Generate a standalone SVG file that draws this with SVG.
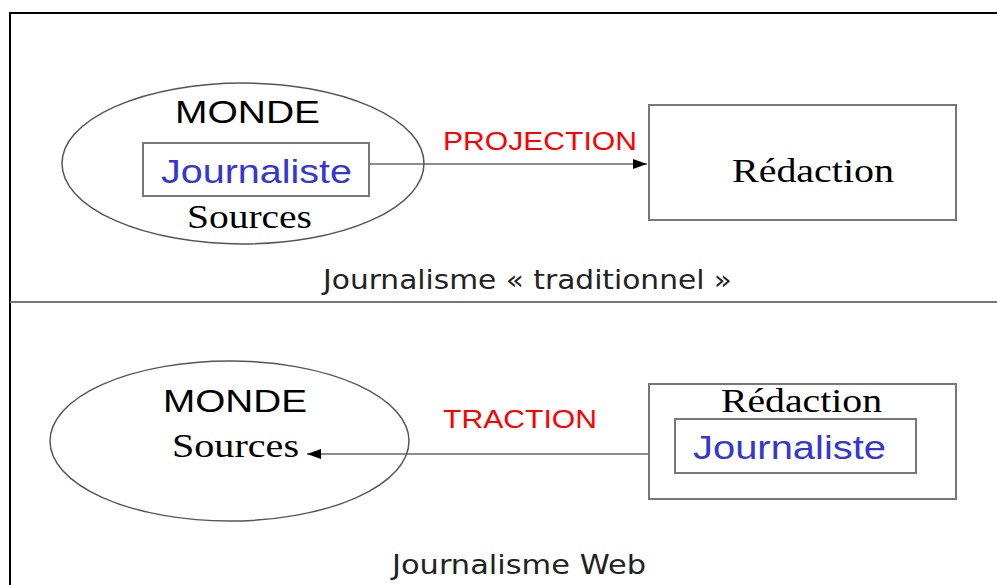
<svg xmlns="http://www.w3.org/2000/svg" width="997" height="585" viewBox="0 0 997 585">
<defs>
<style>
.frame{fill:none;stroke:#000;stroke-width:2}
.div{stroke:#777;stroke-width:2}
.ell{fill:none;stroke:#555;stroke-width:1.5}
.box{fill:#fff;stroke:#777;stroke-width:2}
.conn{fill:none;stroke:#666;stroke-width:1.5}
.sans{font-family:"Liberation Sans",Arial,sans-serif}
.serif{font-family:"Liberation Serif","Times New Roman",serif}
.geo{font-family:"DejaVu Sans","Liberation Sans",sans-serif;fill:#222}
.black{fill:#000}
.blue{fill:#3636d2}
.red{fill:#ff0000}
</style>
<marker id="arr" markerWidth="14" markerHeight="10" refX="14" refY="5" orient="auto" markerUnits="userSpaceOnUse">
<path d="M0,0 L14,5 L0,10 Z" fill="#000"/>
</marker>
</defs>
<rect width="997" height="585" fill="#fff"/>
<path class="frame" d="M10,585 V13 H997"/>
<line class="div" x1="10" y1="302" x2="997" y2="302"/>

<g id="connectors">
<line class="conn" x1="369" y1="164" x2="647" y2="164" marker-end="url(#arr)"/>
<line class="conn" x1="675" y1="454" x2="307" y2="454" marker-end="url(#arr)"/>
<text class="sans red" x="443" y="150" font-size="25" textLength="194" lengthAdjust="spacingAndGlyphs">PROJECTION</text>
<text class="sans red" x="443" y="428" font-size="25" textLength="154" lengthAdjust="spacingAndGlyphs">TRACTION</text>
</g>

<g id="monde-top">
<ellipse class="ell" cx="243" cy="163.5" rx="181" ry="80.5"/>
<text class="sans black" x="175" y="123" font-size="32" textLength="145" lengthAdjust="spacingAndGlyphs">MONDE</text>
<text class="serif black" x="187" y="228" font-size="34" textLength="125" lengthAdjust="spacingAndGlyphs">Sources</text>
</g>
<g id="journaliste-top">
<rect class="box" x="143" y="143" width="226" height="53"/>
<text class="sans blue" x="161" y="183" font-size="33" textLength="191" lengthAdjust="spacingAndGlyphs">Journaliste</text>
</g>
<g id="redaction-top">
<rect class="box" x="649" y="105" width="307" height="115"/>
<text class="serif black" x="732" y="182" font-size="34" textLength="162" lengthAdjust="spacingAndGlyphs">Rédaction</text>
</g>
<g id="caption-top">
<text class="geo" x="323" y="289" font-size="27" textLength="409" lengthAdjust="spacingAndGlyphs">Journalisme « traditionnel »</text>
</g>

<g id="monde-bottom">
<ellipse class="ell" cx="229.5" cy="441" rx="179.5" ry="80"/>
<text class="sans black" x="163" y="412" font-size="32" textLength="144" lengthAdjust="spacingAndGlyphs">MONDE</text>
<text class="serif black" x="172" y="457" font-size="33" textLength="127" lengthAdjust="spacingAndGlyphs">Sources</text>
</g>
<g id="redaction-bottom">
<rect class="box" x="649" y="384" width="307" height="115"/>
<text class="serif black" x="721" y="412" font-size="34" textLength="161" lengthAdjust="spacingAndGlyphs">Rédaction</text>
</g>
<g id="journaliste-bottom">
<rect class="box" x="675" y="419" width="241" height="54"/>
<text class="sans blue" x="693" y="459" font-size="33" textLength="193" lengthAdjust="spacingAndGlyphs">Journaliste</text>
</g>
<g id="caption-bottom">
<text class="geo" x="392" y="574" font-size="27" textLength="254" lengthAdjust="spacingAndGlyphs">Journalisme Web</text>
</g>
</svg>
